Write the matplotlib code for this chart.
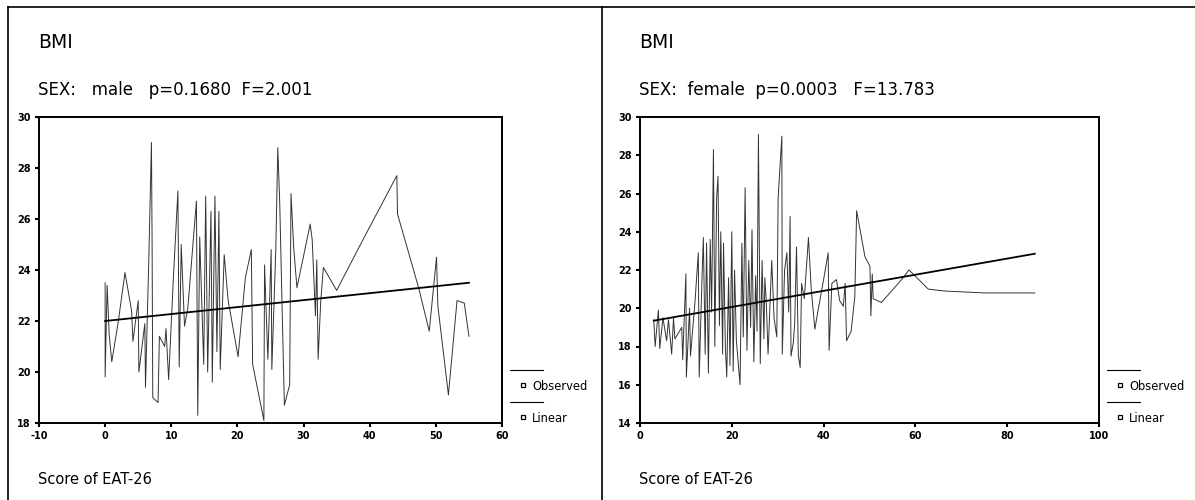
import matplotlib
matplotlib.use("Agg")
import matplotlib.pyplot as plt
from matplotlib.lines import Line2D

plt.rcParams["axes.unicode_minus"] = False

# %% data read off the scanned SPSS curve-fit output
male_x = [0, 0, 0.3, 0.6, 1, 2, 3, 4, 4.2, 5, 5.1, 6, 6.1, 6.6, 7, 7.1, 7.2, 8, 8.2, 9,
          9.2, 9.6, 10.3, 11, 11.2, 11.5, 12, 12.5, 13.8, 14, 14.3, 14.9, 15.2, 15.5, 16,
          16.2, 16.6, 16.9, 17.2, 17.4, 18, 18.6, 20.1, 21.2, 22.1, 22.3, 24, 24.1, 24.6,
          25.1, 25.2, 25.8, 26.1, 26.4, 26.8, 27.1, 27.9, 28.1, 28.5, 29, 31, 31.3, 31.8,
          32, 32.2, 32.6, 33, 35, 38.8, 44.1, 44.2, 47.4, 49, 50.1, 50.3, 51.9, 53.2,
          54.3, 55]
male_bmi = [23.5, 19.8, 23.4, 21.5, 20.4, 22.0, 23.9, 22.4, 21.2, 22.8, 20.0, 21.9, 19.4,
            24.4, 29.0, 25.0, 19.0, 18.8, 21.4, 21.0, 21.7, 19.7, 23.6, 27.1, 20.2, 25.0,
            21.8, 22.5, 26.7, 18.3, 25.3, 20.3, 26.9, 20.0, 26.3, 19.6, 26.9, 20.8, 26.3,
            20.1, 24.6, 22.8, 20.6, 23.7, 24.8, 20.3, 18.1, 24.2, 20.5, 24.8, 20.1, 24.8,
            28.8, 26.6, 22.0, 18.7, 19.5, 27.0, 24.9, 23.3, 25.8, 25.2, 22.2, 24.4, 20.5,
            22.8, 24.1, 23.2, 25.1, 27.7, 26.2, 23.3, 21.6, 24.5, 22.6, 19.1, 22.8, 22.7,
            21.4]
male_fit_x = [0, 55]
male_fit_y = [22.0, 23.5]

female_x = [3, 3.3, 4, 4.3, 5, 5.8, 6.2, 6.9, 7.3, 7.6, 9.1, 9.3, 10, 10.1, 10.8, 11, 12,
            12.7, 12.9, 13.5, 13.8, 14.2, 14.5, 14.9, 15.3, 15.6, 16, 16.3, 16.7, 17, 17.3,
            17.6, 18, 18.2, 18.6, 18.9, 19.3, 19.6, 20, 20.3, 20.6, 21, 21.8, 22.2, 22.5,
            22.9, 23.3, 23.7, 24.1, 24.4, 24.8, 25.2, 25.5, 25.8, 26.2, 26.6, 27, 27.2,
            27.5, 27.9, 28.7, 29.2, 29.8, 30.1, 30.9, 31.0, 31.5, 32, 32.4, 32.7, 32.9,
            33.4, 33.7, 34.1, 34.5, 34.9, 35.2, 35.8, 36.7, 37.3, 38.1, 38.8, 40, 41, 41.2,
            41.8, 42.8, 43.5, 44.3, 44.7, 45, 46, 46.8, 47.2, 49, 50.1, 50.3, 50.6, 50.8,
            52.6, 57, 58.6, 60.3, 62.8, 66.4, 75.2, 86]
female_bmi = [19.4, 18.0, 19.9, 17.9, 19.5, 18.3, 19.4, 17.6, 19.5, 18.4, 19.0, 17.3, 21.8,
              16.4, 20.0, 17.5, 20.4, 22.9, 16.4, 21.5, 23.7, 17.6, 23.4, 16.6, 23.6, 19.8,
              28.3, 18.0, 25.8, 26.9, 19.1, 24.0, 17.6, 23.4, 18.0, 16.4, 21.6, 17.0, 24.0,
              16.7, 22.0, 18.3, 16.0, 23.4, 18.5, 26.3, 17.8, 22.5, 19.0, 24.1, 17.2, 21.7,
              18.8, 29.1, 17.1, 22.5, 18.4, 21.6, 20.4, 17.6, 22.5, 19.5, 18.5, 25.8, 29.0,
              17.6, 22.0, 22.9, 19.8, 24.8, 17.5, 18.2, 19.2, 23.2, 17.5, 16.9, 21.3, 20.5,
              23.7, 21.0, 18.9, 19.9, 21.5, 22.9, 17.8, 21.3, 21.5, 20.4, 20.1, 21.3, 18.3,
              18.8, 20.6, 25.1, 22.7, 22.2, 19.6, 21.8, 20.5, 20.3, 21.5, 22.0, 21.6, 21.0,
              20.9, 20.8, 20.8]
female_fit_x = [3, 86]
female_fit_y = [19.35, 22.85]

titles = ["SEX:   male   p=0.1680  F=2.001", "SEX:  female  p=0.0003   F=13.783"]
male_xticks = [-10, 0, 10, 20, 30, 40, 50, 60]
male_yticks = [18, 20, 22, 24, 26, 28, 30]
female_xticks = [0, 20, 40, 60, 80, 100]
female_yticks = [14, 16, 18, 20, 22, 24, 26, 28, 30]

W, H = 1195, 500
fig = plt.figure(figsize=(W / 100, H / 100), dpi=100)


def px(x, y):
    return x / W, 1 - y / H


# panel frame lines
fig.add_artist(Line2D([8 / W, 1], [1 - 7 / H] * 2, color="black", lw=1.2))
fig.add_artist(Line2D([8 / W] * 2, [0, 1 - 7 / H], color="black", lw=1.2))
fig.add_artist(Line2D([602 / W] * 2, [0, 1 - 7 / H], color="black", lw=1.2))


def panel(left, right, xs, ys, fx, fy, xticks, yticks, sub):
    ax = fig.add_axes([left / W, 1 - 423 / H, (right - left) / W, 306 / H])
    ax.plot(xs, ys, color="#333333", lw=0.7)
    ax.plot(fx, fy, color="black", lw=1.3)
    ax.set_xlim(xticks[0], xticks[-1])
    ax.set_ylim(yticks[0], yticks[-1])
    ax.set_xticks(xticks)
    ax.set_yticks(yticks)
    ax.tick_params(direction="out", length=3, width=1.5, labelsize=7, pad=3)
    for lab in ax.get_xticklabels() + ax.get_yticklabels():
        lab.set_fontweight("bold")
    for s in ax.spines.values():
        s.set_linewidth(1.4)
    t0 = left - 1
    fig.text(*px(t0, 42), "BMI", fontsize=13.5, va="center", ha="left")
    fig.text(*px(t0, 90), sub, fontsize=12, va="center", ha="left")
    fig.text(*px(t0, 480), "Score of EAT-26", fontsize=10.5, va="center", ha="left")
    # legend drawn SPSS-style
    tx = right + 30
    for ly, label in [(370, "Observed"), (402, "Linear")]:
        fig.add_artist(Line2D([(right + 8) / W, (right + 41) / W], [1 - ly / H] * 2,
                              color="black", lw=0.8))
        fig.add_artist(Line2D([(tx - 9) / W], [1 - (ly + 15) / H], marker="s",
                              markersize=3.5, mfc="white", mec="black", mew=0.9))
        fig.text(*px(tx, ly + 16), label, fontsize=8.3, va="center", ha="left")
    return ax


panel(39, 502, male_x, male_bmi, male_fit_x, male_fit_y, male_xticks, male_yticks, titles[0])
panel(640, 1099, female_x, female_bmi, female_fit_x, female_fit_y, female_xticks,
      female_yticks, titles[1])

fig.savefig("out.png", dpi=100)
